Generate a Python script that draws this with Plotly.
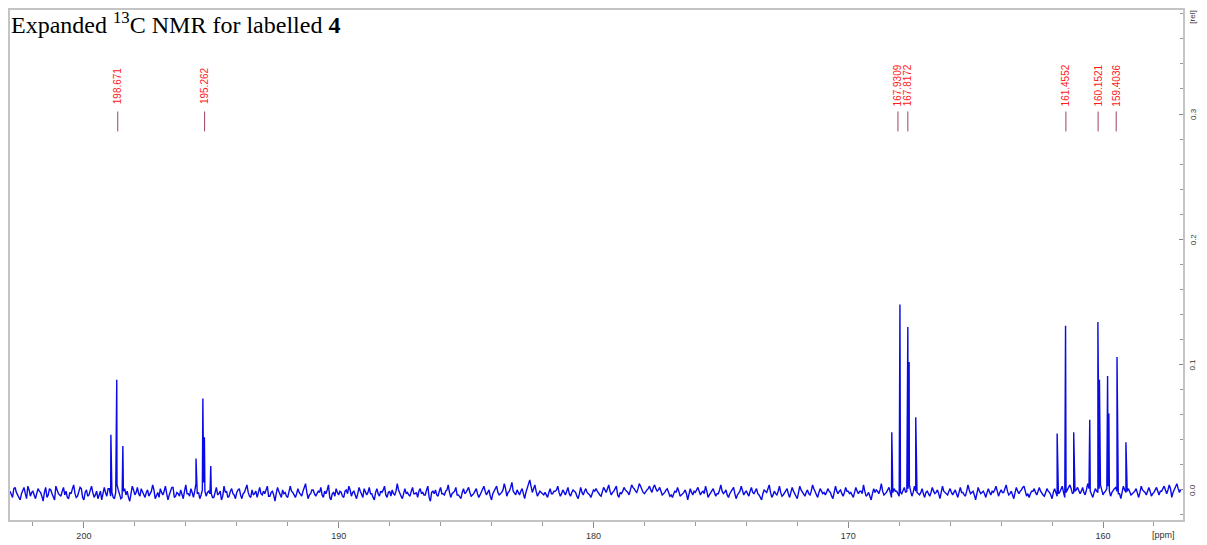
import plotly.graph_objects as go

# ---------------- data ----------------
noise_start_ppm = 202.9
noise_mid_start_ppm = 202.85
noise_step_ppm = 0.1
# baseline noise readings, in units of 0.001 rel, every 0.1 ppm from 202.9 to 157.0
baseline_noise_milli = [
    -1, -6, 2, -4, -8, 0, -3, 3, -5, -1,
    -7, 1, -2, -9, 2, -4, 0, -6, 3, -3,
    -5, 2, -1, -7, -3, 4, -6, -2, 1, -8,
    0, -4, 3, -6, -1, -3, -8, 2, -5, 1,
    -2, -7, 4, -3, -6, 1, -1, -9, 3, -4,
    2, -5, -1, -6, 0, -3, 4, -7, -2, 1,
    -4, 3, -8, -1, 2, -5, -3, 0, -7, 4,
    -3, 1, -6, 5, -2, -4, 6, -5, -1, -3,
    -6, 2, -3, -8, 3, -1, -5, 1, -4, -2,
    1, -7, -2, 4, -5, 0, -3, -6, 2, -4,
    -3, 3, -5, -1, -9, 2, -4, 0, -2, -6,
    3, -2, -6, 1, -4, -1, 5, -7, -3, 0,
    -5, -1, 2, -6, -3, 4, -8, -2, 1, -4,
    -2, -6, 0, 3, -5, -1, -7, 2, -3, 1,
    -4, 2, -3, -8, 1, -5, -2, 3, -6, -1,
    0, -4, 5, -3, -7, 1, -2, -5, 2, -3,
    -6, 1, -2, -4, 3, -9, -1, 0, -5, 2,
    -3, -1, 4, -6, -2, 2, -4, -7, 1, -2,
    2, -5, -3, 1, -6, -2, 3, -4, 0, -8,
    -1, 3, -4, -2, 5, -5, -1, 6, -3, 0,
    -4, 1, -7, 2, 8, -2, 4, -5, -1, -3,
    -2, -6, 1, -3, -1, 3, -5, 0, -4, 2,
    -5, 0, -2, -7, 2, -4, 1, -3, -6, 0,
    1, -3, -5, 2, -2, 4, -4, -1, 3, -6,
    -3, 2, -1, -4, 4, 1, -2, 5, 0, -3,
    0, 3, -2, 4, -1, 2, -4, -2, 1, -5,
    -6, -1, 2, -5, -3, 0, -8, 1, -4, -2,
    2, -4, -1, 3, -6, -2, 1, -5, -3, 4,
    -3, 0, -6, -1, 2, -7, -2, 3, -4, -1,
    -5, 2, -3, 1, -4, -8, 0, -2, 4, -6,
    -1, -4, 3, -5, -2, 1, -6, 2, -3, -7,
    3, -2, -5, 0, -4, 4, -1, -6, 1, -3,
    -4, 1, -2, -7, 3, -3, 0, -5, 2, -1,
    -2, -6, 2, -3, -1, 4, -5, -2, -8, 1,
    0, -3, 5, -4, -2, 2, -6, 1, -1, -5,
    -3, 2, -1, 4, -5, 3, -2, -4, 1, -6,
    -1, -5, 2, -3, 0, -7, 3, -2, -4, 1,
    -4, 0, -6, 2, -2, -5, 4, -3, -1, -8,
    2, -3, -1, -6, 1, -4, -2, 3, -5, 0,
    -2, 4, -4, -1, -7, 2, -3, 0, 3, -5,
    -6, -1, 1, -4, 2, -3, -5, 1, -2, -7,
    1, -5, -2, 3, -6, 0, 4, -3, -1, 2,
    -3, 2, -4, 5, -1, -6, 1, -2, 4, -4,
    -1, 3, -5, 0, 2, -3, -7, 3, -2, 1,
    -4, -2, 1, -6, 3, -1, -4, 2, -5, -2,
    2, -4, -1, 3, -3, 4, -6, 0, 5, -2,
]
# readings in between, every 0.1 ppm from 202.85 to 156.95
baseline_noise_mid_milli = [
    -4, 1, -2, -6, -3, 2, -7, 0, -2, -5,
    -3, -1, -5, -2, -6, 1, -3, -8, 0, -4,
    -1, -4, -6, -2, 1, -3, -5, 2, -6, -2,
    -5, 0, -2, -4, -7, -1, -3, -2, 1, -5,
    -6, -2, 0, -7, -1, -4, -6, -3, 0, -2,
    -3, 1, -4, -2, -5, -1, 0, -4, -6, -2,
    -1, -3, -4, 2, -6, -2, -5, -4, -1, -3,
    -5, -2, -1, -3, -7, 0, -1, -2, -3, -6,
    -2, -4, -1, -5, -2, -6, -1, -3, -7, 0,
    -4, -3, 1, -2, -6, -4, -1, -2, -3, -1,
    0, -5, -2, -4, -3, -1, -6, -3, -5, -2,
    -1, -4, -3, -2, -5, 2, -2, -4, 0, -3,
    -3, -2, -4, -1, 0, -6, -3, -5, -2, -1,
    -5, -1, -3, 0, -2, -4, -3, -1, -6, -2,
    -2, -3, -6, -2, -3, -1, 0, -4, -2, -5,
    -3, -1, 0, -5, -2, -3, -4, -1, -3, -2,
    -1, -3, -4, 0, -6, -2, -3, -4, -1, -3,
    -4, 0, -2, -3, -1, -4, -6, -2, -3, 0,
    -2, -4, -1, -3, -4, 0, -1, -2, -5, -3,
    1, -2, -3, 0, 1, -2, 2, -1, -4, -2,
    -1, -3, -2, 4, 3, 1, -1, -3, -2, -4,
    -4, -2, -3, -1, 0, -2, -3, -2, -1, -3,
    -2, -1, -5, -3, -2, -1, -2, -4, -3, -1,
    -1, -4, -2, 0, 1, -1, -2, 1, -4, -2,
    -1, 0, -2, 1, 2, -1, 1, 3, -2, -1,
    1, 0, 2, 1, 0, -1, -3, 0, -2, -4,
    -3, -2, -1, -4, -2, -3, -4, -2, -1, 0,
    -1, -2, -3, -1, -4, -1, -2, -3, 0, -1,
    -2, -4, -3, 0, -3, -4, -1, -1, -2, -3,
    -1, -2, -1, -3, -6, -3, -1, 1, -2, -4,
    -3, -1, -2, -4, -1, -3, -2, -1, -5, -2,
    0, -4, -2, -3, -1, 1, -4, -2, -1, -2,
    -2, -1, -5, -2, -1, -1, -3, -2, -1, -3,
    -4, -2, -1, -1, -3, -1, -4, -5, -3, -2,
    -1, 0, -1, -3, 0, -2, -2, -1, -3, -2,
    -1, -2, 1, -1, -2, -1, -3, -2, -3, -2,
    -3, -2, -1, -2, -3, -2, -1, -3, -1, -2,
    -2, -3, -2, -2, -4, -1, 0, -2, -4, -3,
    -1, -2, -3, -2, -2, -1, 0, -1, -2, -2,
    1, -1, -3, -4, -2, -1, -1, 2, -1, -3,
    -3, -1, -2, -1, -1, -4, -2, -1, -4, -2,
    -2, -3, 0, -2, -2, 2, 1, -2, 0, -1,
    -1, -2, 0, 1, -3, -2, -1, 1, 0, -2,
    1, -1, -2, 1, -1, -3, -2, 0, -1, -2,
    -3, -1, -2, -2, 0, -2, -1, -1, -3, 0,
    -1, -1, 1, 0, 0, 1, -2, 2, 1, 0,
]

peak_ppm = [198.94, 198.71, 198.47,
            195.60, 195.33, 195.27, 195.02,
            168.29, 167.97, 167.66, 167.61, 167.35,
            161.80, 161.47, 161.15, 160.52, 160.20, 160.14, 159.82, 159.77, 159.45, 159.10]
peak_height = [0.044, 0.088, 0.035,
               0.025, 0.073, 0.042, 0.019,
               0.046, 0.148, 0.130, 0.102, 0.058,
               0.045, 0.131, 0.046, 0.056, 0.134, 0.088, 0.091, 0.061, 0.106, 0.038]

label_text = ["198.671", "195.262", "167.9309", "167.8172", "161.4552", "160.1521", "159.4036"]
label_ppm = [198.671, 195.262, 167.9309, 167.8172, 161.4552, 160.1521, 159.4036]

x_tick_vals = [200, 190, 180, 170, 160]
x_tick_text = ["200", "190", "180", "170", "160"]
y_tick_vals = [0.0, 0.1, 0.2, 0.3]
y_tick_text = ["0.0", "0.1", "0.2", "0.3"]

# ---------------- build spectrum ----------------
pts = []
for i, n in enumerate(baseline_noise_milli):
    pts.append((round(noise_start_ppm - noise_step_ppm * i, 4), n * 0.001))
for i, n in enumerate(baseline_noise_mid_milli):
    pts.append((round(noise_mid_start_ppm - noise_step_ppm * i, 4), n * 0.001))
for p, h in zip(peak_ppm, peak_height):
    pts.append((p, h))
pts.sort(key=lambda t: -t[0])
xs = [p[0] for p in pts]
ys = [p[1] for p in pts]

X_RANGE = [202.90, 156.86]
PLOT_W = 1175  # px width of the plotting area
ppm_per_px = (X_RANGE[0] - X_RANGE[1]) / PLOT_W

fig = go.Figure()
fig.add_trace(go.Scatter(x=xs, y=ys, mode="lines",
                         line=dict(color="#0a0ae6", width=1.4),
                         hoverinfo="skip", showlegend=False))

label_shift = [0, 0, -3, 4, 0, -1, -2]   # small pixel nudges so the pair does not overlap
annotations = []
shapes = []
for t, p, s in zip(label_text, label_ppm, label_shift):
    annotations.append(dict(x=p, xref="x", y=0.852, yref="paper", text=t,
                            textangle=-90, showarrow=False, xshift=s,
                            xanchor="center", yanchor="middle",
                            font=dict(family="Liberation Sans", size=10, color="#ff1a1a")))
    xl = p - s * ppm_per_px
    shapes.append(dict(type="line", xref="x", yref="paper", x0=xl, x1=xl,
                       y0=0.762, y1=0.801, line=dict(color="#a04060", width=1)))

for v, t in zip(y_tick_vals, y_tick_text):
    annotations.append(dict(x=1, xref="paper", y=v, yref="y", text=t, textangle=-90,
                            showarrow=False, xanchor="center", yanchor="middle", xshift=10,
                            font=dict(family="Liberation Sans", size=8, color="#333")))

annotations.append(dict(x=0, xref="paper", y=1, yref="paper", xanchor="left", yanchor="top",
                        xshift=-1, yshift=4, showarrow=False,
                        text="Expanded <sup>13</sup>C NMR for labelled <b>4</b>",
                        font=dict(family="Liberation Serif", size=24, color="black")))
annotations.append(dict(x=1, xref="paper", y=0.985, yref="paper", text="[rel]",
                        textangle=-90, showarrow=False, xanchor="center", yanchor="middle",
                        xshift=10,
                        font=dict(family="Liberation Sans", size=8, color="#333")))
annotations.append(dict(x=0.983, xref="paper", y=0, yref="paper", text="[ppm]",
                        showarrow=False, xanchor="center", yanchor="top", yshift=-8,
                        font=dict(family="Liberation Sans", size=9, color="#333")))

# the page adds an 8 px body margin, so the figure itself is 8 px smaller
fig.update_layout(
    width=1199, height=537,
    margin=dict(l=0, r=24, t=0, b=25),
    paper_bgcolor="white", plot_bgcolor="white",
    annotations=annotations,
    shapes=shapes,
    showlegend=False,
    xaxis=dict(range=X_RANGE, showgrid=False, zeroline=False,
               showline=True, mirror=True, linecolor="#c4c4c4", linewidth=2,
               ticks="outside", ticklen=6, tickcolor="#888", tickwidth=1,
               tickvals=x_tick_vals, ticktext=x_tick_text,
               minor=dict(dtick=2, tick0=0, ticks="outside", ticklen=4, tickcolor="#999"),
               tickfont=dict(family="Liberation Sans", size=9, color="#333")),
    yaxis=dict(range=[-0.024, 0.383], side="right", showgrid=False, zeroline=False,
               showline=True, mirror=True, linecolor="#c4c4c4", linewidth=2,
               ticks="inside", ticklen=4, tickcolor="#888",
               tickvals=y_tick_vals, showticklabels=False,
               minor=dict(dtick=0.02, tick0=0, ticks="inside", ticklen=3, tickcolor="#999")),
)

fig.write_html("out.html")
